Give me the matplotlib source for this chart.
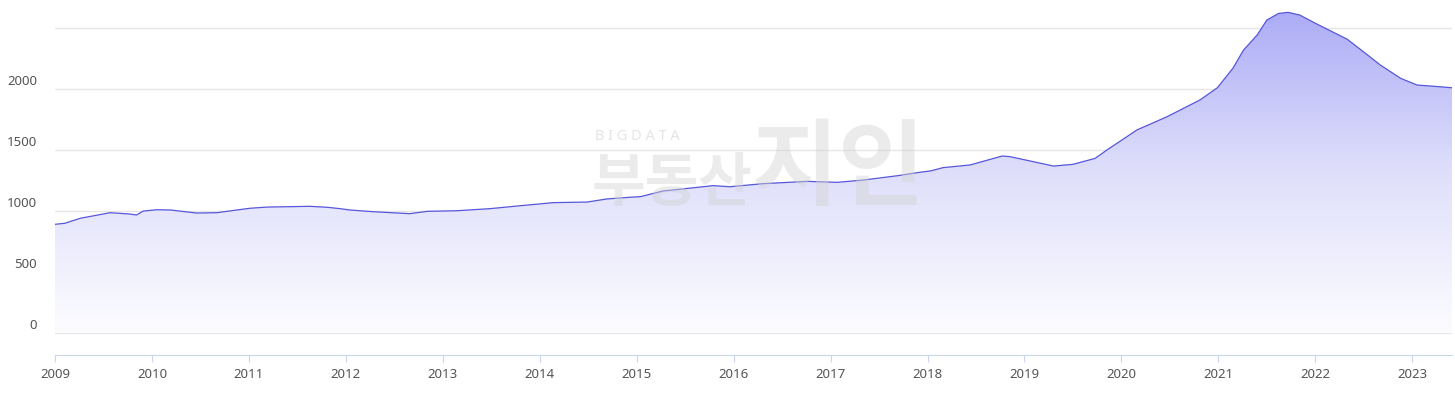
import matplotlib.pyplot as plt
import numpy as np
from matplotlib.colors import LinearSegmentedColormap
from matplotlib.patches import PathPatch

plt.rcParams['font.family'] = ['Noto Sans', 'Noto Sans CJK KR', 'DejaVu Sans']

# time (decimal year) and index values
years = [2009.00, 2009.10, 2009.26, 2009.57, 2009.77, 2009.84, 2009.91, 2010.05,
         2010.19, 2010.46, 2010.67, 2011.01, 2011.19, 2011.63, 2011.81, 2011.94,
         2012.04, 2012.28, 2012.66, 2012.84, 2013.15, 2013.49, 2013.80, 2014.14,
         2014.49, 2014.69, 2014.93, 2015.04, 2015.27, 2015.79, 2015.96, 2016.30,
         2016.76, 2017.07, 2017.34, 2017.69, 2017.92, 2018.03, 2018.16, 2018.44,
         2018.77, 2018.85, 2019.30, 2019.50, 2019.73, 2019.85, 2020.16, 2020.47,
         2020.81, 2020.99, 2021.15, 2021.26, 2021.40, 2021.50, 2021.62, 2021.72,
         2021.84, 2022.00, 2022.33, 2022.54, 2022.67, 2022.88, 2023.05, 2023.19,
         2023.41]
values = [892, 900, 941, 987, 976, 968, 1000, 1011,
          1009, 984, 987, 1023, 1033, 1039, 1031, 1020,
          1009, 995, 979, 998, 1003, 1020, 1044, 1069,
          1074, 1099, 1113, 1118, 1164, 1208, 1199, 1224,
          1243, 1235, 1254, 1289, 1317, 1328, 1355, 1377,
          1450, 1445, 1368, 1382, 1431, 1499, 1663, 1771,
          1908, 2008, 2167, 2316, 2439, 2561, 2615, 2624,
          2602, 2535, 2404, 2275, 2194, 2085, 2030, 2022,
          2008]

x_ticks = list(range(2009, 2024))
y_ticks = [0, 500, 1000, 1500, 2000, 2500]
y_labels = ['0', '500', '1000', '1500', '2000']

fig = plt.figure(figsize=(14.55, 4.01), dpi=100)
ax = fig.add_axes([55 / 1455, 46 / 401, 1397 / 1455, 355 / 401])

# gradient fill under the line
poly = ax.fill_between(years, values, 0, color='none', lw=0)
clip = PathPatch(poly.get_paths()[0], transform=ax.transData, facecolor='none', edgecolor='none')
ax.add_patch(clip)
cmap = LinearSegmentedColormap.from_list('fade', ['#fcfcff', '#dedefb', '#a9a9f7'])
grad = np.linspace(0, 1, 256)[:, None]
im = ax.imshow(grad, extent=[years[0], years[-1], 0, 2700], origin='lower',
               aspect='auto', cmap=cmap, zorder=1)
im.set_clip_path(clip)

ax.plot(years, values, color='#5757d9', lw=0.9, zorder=3)

ax.set_xlim(2009, 2023.41)
ax.set_ylim(-176, 2725)

ax.set_yticks(y_ticks)
ax.set_yticklabels([])
ax.tick_params(axis='y', length=0)
ax.grid(axis='y', color='#e6e6e6', lw=1, zorder=0)
ax.set_axisbelow(True)
for v, lab in zip(y_ticks, y_labels):
    ax.annotate(lab, xy=(0, v), xycoords=('axes fraction', 'data'),
                xytext=(-13, 5.5), textcoords='offset points',
                ha='right', va='center', fontsize=9.5, color='#555555')

ax.set_xticks(x_ticks)
ax.set_xticklabels([str(y) for y in x_ticks], fontsize=9.5, color='#555555')
ax.tick_params(axis='x', length=5, color='#ccd6eb', pad=4)

for s in ['top', 'right', 'left']:
    ax.spines[s].set_visible(False)
ax.spines['bottom'].set_color('#ccd6eb')

# faint watermark
wm = '#d4d4d4'
fig.text(595 / 1455, 1 - 137 / 401, 'B I G D A T A', fontsize=10.5, color=wm,
         alpha=0.6, va='center', ha='left', zorder=5)
fig.text(592 / 1455, 1 - 184 / 401, '부동산', fontsize=42, fontweight='bold',
         family=['Noto Sans CJK KR'], color=wm, alpha=0.45, va='center', ha='left', zorder=5)
fig.text(752 / 1455, 1 - 170 / 401, '지인', fontsize=68, fontweight='bold',
         family=['Noto Sans CJK KR'], color=wm, alpha=0.45, va='center', ha='left', zorder=5)

fig.savefig('out.png', dpi=100)
